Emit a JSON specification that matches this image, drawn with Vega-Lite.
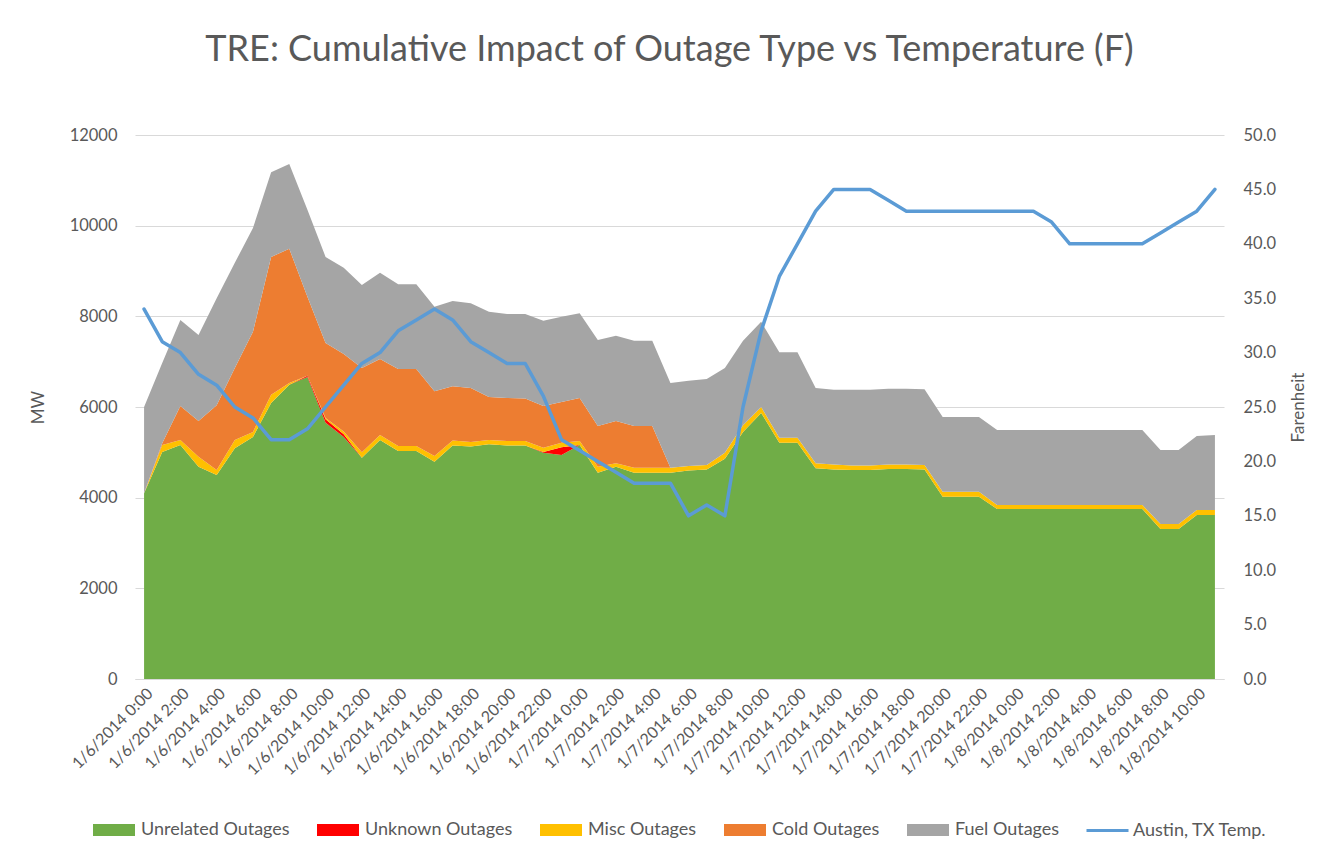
{
  "$schema": "https://vega.github.io/schema/vega-lite/v6.json",
  "width": 1089,
  "height": 544,
  "autosize": "none",
  "padding": {"left": 135, "top": 135, "right": 112, "bottom": 178},
  "background": "white",
  "title": {"text": "TRE: Cumulative Impact of Outage Type vs Temperature (F)", "font": "Lato", "fontSize": 36, "fontWeight": "normal", "color": "#595959", "anchor": "middle", "offset": 58, "dx": -10},
  "datasets": {
    "series": [
      {"key": "unrelated", "label": "Unrelated Outages", "rank": 1},
      {"key": "unknown", "label": "Unknown Outages", "rank": 2},
      {"key": "misc", "label": "Misc Outages", "rank": 3},
      {"key": "cold", "label": "Cold Outages", "rank": 4},
      {"key": "fuel", "label": "Fuel Outages", "rank": 5}
    ],
    "hours": [
      {"t": "2014-01-06T00:00", "unrelated": 4100, "unknown": 0, "misc": 0, "cold": 0, "fuel": 1900, "temp": 34},
      {"t": "2014-01-06T01:00", "unrelated": 5010, "unknown": 0, "misc": 150, "cold": 40, "fuel": 1770, "temp": 31},
      {"t": "2014-01-06T02:00", "unrelated": 5160, "unknown": 0, "misc": 110, "cold": 750, "fuel": 1900, "temp": 30},
      {"t": "2014-01-06T03:00", "unrelated": 4680, "unknown": 0, "misc": 220, "cold": 790, "fuel": 1900, "temp": 28},
      {"t": "2014-01-06T04:00", "unrelated": 4500, "unknown": 0, "misc": 110, "cold": 1430, "fuel": 2360, "temp": 27},
      {"t": "2014-01-06T05:00", "unrelated": 5090, "unknown": 0, "misc": 180, "cold": 1590, "fuel": 2320, "temp": 25},
      {"t": "2014-01-06T06:00", "unrelated": 5340, "unknown": 0, "misc": 110, "cold": 2210, "fuel": 2290, "temp": 24},
      {"t": "2014-01-06T07:00", "unrelated": 6090, "unknown": 0, "misc": 180, "cold": 3040, "fuel": 1870, "temp": 22},
      {"t": "2014-01-06T08:00", "unrelated": 6490, "unknown": 0, "misc": 40, "cold": 2960, "fuel": 1870, "temp": 22},
      {"t": "2014-01-06T09:00", "unrelated": 6660, "unknown": 30, "misc": 0, "cold": 1740, "fuel": 1920, "temp": 23},
      {"t": "2014-01-06T10:00", "unrelated": 5650, "unknown": 80, "misc": 30, "cold": 1650, "fuel": 1900, "temp": 25},
      {"t": "2014-01-06T11:00", "unrelated": 5340, "unknown": 60, "misc": 60, "cold": 1710, "fuel": 1900, "temp": 27},
      {"t": "2014-01-06T12:00", "unrelated": 4880, "unknown": 0, "misc": 120, "cold": 1860, "fuel": 1830, "temp": 29},
      {"t": "2014-01-06T13:00", "unrelated": 5270, "unknown": 0, "misc": 110, "cold": 1680, "fuel": 1900, "temp": 30},
      {"t": "2014-01-06T14:00", "unrelated": 5030, "unknown": 0, "misc": 110, "cold": 1700, "fuel": 1870, "temp": 32},
      {"t": "2014-01-06T15:00", "unrelated": 5030, "unknown": 0, "misc": 110, "cold": 1700, "fuel": 1870, "temp": 33},
      {"t": "2014-01-06T16:00", "unrelated": 4790, "unknown": 0, "misc": 130, "cold": 1430, "fuel": 1860, "temp": 34},
      {"t": "2014-01-06T17:00", "unrelated": 5150, "unknown": 0, "misc": 110, "cold": 1200, "fuel": 1880, "temp": 33},
      {"t": "2014-01-06T18:00", "unrelated": 5130, "unknown": 0, "misc": 100, "cold": 1190, "fuel": 1870, "temp": 31},
      {"t": "2014-01-06T19:00", "unrelated": 5180, "unknown": 0, "misc": 90, "cold": 950, "fuel": 1880, "temp": 30},
      {"t": "2014-01-06T20:00", "unrelated": 5150, "unknown": 0, "misc": 100, "cold": 950, "fuel": 1850, "temp": 29},
      {"t": "2014-01-06T21:00", "unrelated": 5150, "unknown": 0, "misc": 100, "cold": 940, "fuel": 1860, "temp": 29},
      {"t": "2014-01-06T22:00", "unrelated": 4990, "unknown": 20, "misc": 90, "cold": 920, "fuel": 1880, "temp": 26},
      {"t": "2014-01-06T23:00", "unrelated": 4940, "unknown": 170, "misc": 100, "cold": 900, "fuel": 1880, "temp": 22},
      {"t": "2014-01-07T00:00", "unrelated": 5160, "unknown": 0, "misc": 90, "cold": 950, "fuel": 1870, "temp": 21},
      {"t": "2014-01-07T01:00", "unrelated": 4550, "unknown": 0, "misc": 130, "cold": 900, "fuel": 1900, "temp": 20},
      {"t": "2014-01-07T02:00", "unrelated": 4680, "unknown": 0, "misc": 80, "cold": 930, "fuel": 1880, "temp": 19},
      {"t": "2014-01-07T03:00", "unrelated": 4550, "unknown": 0, "misc": 110, "cold": 920, "fuel": 1880, "temp": 18},
      {"t": "2014-01-07T04:00", "unrelated": 4550, "unknown": 0, "misc": 110, "cold": 920, "fuel": 1880, "temp": 18},
      {"t": "2014-01-07T05:00", "unrelated": 4550, "unknown": 0, "misc": 110, "cold": 0, "fuel": 1870, "temp": 18},
      {"t": "2014-01-07T06:00", "unrelated": 4600, "unknown": 0, "misc": 100, "cold": 0, "fuel": 1880, "temp": 15},
      {"t": "2014-01-07T07:00", "unrelated": 4620, "unknown": 0, "misc": 100, "cold": 0, "fuel": 1900, "temp": 16},
      {"t": "2014-01-07T08:00", "unrelated": 4860, "unknown": 0, "misc": 130, "cold": 0, "fuel": 1870, "temp": 15},
      {"t": "2014-01-07T09:00", "unrelated": 5450, "unknown": 0, "misc": 150, "cold": 0, "fuel": 1860, "temp": 25},
      {"t": "2014-01-07T10:00", "unrelated": 5870, "unknown": 0, "misc": 130, "cold": 0, "fuel": 1880, "temp": 32},
      {"t": "2014-01-07T11:00", "unrelated": 5210, "unknown": 0, "misc": 110, "cold": 0, "fuel": 1890, "temp": 37},
      {"t": "2014-01-07T12:00", "unrelated": 5210, "unknown": 0, "misc": 110, "cold": 0, "fuel": 1890, "temp": 40},
      {"t": "2014-01-07T13:00", "unrelated": 4650, "unknown": 0, "misc": 110, "cold": 0, "fuel": 1660, "temp": 43},
      {"t": "2014-01-07T14:00", "unrelated": 4620, "unknown": 0, "misc": 110, "cold": 0, "fuel": 1650, "temp": 45},
      {"t": "2014-01-07T15:00", "unrelated": 4610, "unknown": 0, "misc": 100, "cold": 0, "fuel": 1670, "temp": 45},
      {"t": "2014-01-07T16:00", "unrelated": 4610, "unknown": 0, "misc": 100, "cold": 0, "fuel": 1670, "temp": 45},
      {"t": "2014-01-07T17:00", "unrelated": 4630, "unknown": 0, "misc": 100, "cold": 0, "fuel": 1670, "temp": 44},
      {"t": "2014-01-07T18:00", "unrelated": 4630, "unknown": 0, "misc": 100, "cold": 0, "fuel": 1670, "temp": 43},
      {"t": "2014-01-07T19:00", "unrelated": 4620, "unknown": 0, "misc": 100, "cold": 0, "fuel": 1670, "temp": 43},
      {"t": "2014-01-07T20:00", "unrelated": 4020, "unknown": 0, "misc": 110, "cold": 0, "fuel": 1650, "temp": 43},
      {"t": "2014-01-07T21:00", "unrelated": 4020, "unknown": 0, "misc": 110, "cold": 0, "fuel": 1650, "temp": 43},
      {"t": "2014-01-07T22:00", "unrelated": 4020, "unknown": 0, "misc": 110, "cold": 0, "fuel": 1650, "temp": 43},
      {"t": "2014-01-07T23:00", "unrelated": 3750, "unknown": 0, "misc": 90, "cold": 0, "fuel": 1650, "temp": 43},
      {"t": "2014-01-08T00:00", "unrelated": 3750, "unknown": 0, "misc": 90, "cold": 0, "fuel": 1650, "temp": 43},
      {"t": "2014-01-08T01:00", "unrelated": 3750, "unknown": 0, "misc": 90, "cold": 0, "fuel": 1650, "temp": 43},
      {"t": "2014-01-08T02:00", "unrelated": 3750, "unknown": 0, "misc": 90, "cold": 0, "fuel": 1650, "temp": 42},
      {"t": "2014-01-08T03:00", "unrelated": 3750, "unknown": 0, "misc": 90, "cold": 0, "fuel": 1650, "temp": 40},
      {"t": "2014-01-08T04:00", "unrelated": 3750, "unknown": 0, "misc": 90, "cold": 0, "fuel": 1650, "temp": 40},
      {"t": "2014-01-08T05:00", "unrelated": 3750, "unknown": 0, "misc": 90, "cold": 0, "fuel": 1650, "temp": 40},
      {"t": "2014-01-08T06:00", "unrelated": 3750, "unknown": 0, "misc": 90, "cold": 0, "fuel": 1650, "temp": 40},
      {"t": "2014-01-08T07:00", "unrelated": 3750, "unknown": 0, "misc": 90, "cold": 0, "fuel": 1650, "temp": 40},
      {"t": "2014-01-08T08:00", "unrelated": 3310, "unknown": 0, "misc": 110, "cold": 0, "fuel": 1630, "temp": 41},
      {"t": "2014-01-08T09:00", "unrelated": 3310, "unknown": 0, "misc": 110, "cold": 0, "fuel": 1630, "temp": 42},
      {"t": "2014-01-08T10:00", "unrelated": 3620, "unknown": 0, "misc": 110, "cold": 0, "fuel": 1630, "temp": 43},
      {"t": "2014-01-08T11:00", "unrelated": 3620, "unknown": 0, "misc": 110, "cold": 0, "fuel": 1650, "temp": 45}
    ]
  },
  "data": {"name": "hours"},
  "encoding": {
    "x": {
      "field": "t", "type": "temporal",
      "scale": {"domain": ["2014-01-05T23:30", "2014-01-08T11:30"]},
      "axis": {
        "title": null,
        "values": ["2014-01-06T00:00", "2014-01-06T02:00", "2014-01-06T04:00", "2014-01-06T06:00", "2014-01-06T08:00", "2014-01-06T10:00", "2014-01-06T12:00", "2014-01-06T14:00", "2014-01-06T16:00", "2014-01-06T18:00", "2014-01-06T20:00", "2014-01-06T22:00", "2014-01-07T00:00", "2014-01-07T02:00", "2014-01-07T04:00", "2014-01-07T06:00", "2014-01-07T08:00", "2014-01-07T10:00", "2014-01-07T12:00", "2014-01-07T14:00", "2014-01-07T16:00", "2014-01-07T18:00", "2014-01-07T20:00", "2014-01-07T22:00", "2014-01-08T00:00", "2014-01-08T02:00", "2014-01-08T04:00", "2014-01-08T06:00", "2014-01-08T08:00", "2014-01-08T10:00"],
        "labelExpr": "timeFormat(datum.value, '%-m/%-d/%Y %-H:%M')",
        "labelAngle": -45, "labelFont": "Lato", "labelFontSize": 16, "labelColor": "#595959",
        "labelOverlap": false, "labelPadding": 6, "ticks": false, "grid": false,
        "domain": true, "domainColor": "#D9D9D9", "domainWidth": 1
      }
    }
  },
  "layer": [
    {
      "transform": [
        {"fold": ["unrelated", "unknown", "misc", "cold", "fuel"], "as": ["key", "mw"]},
        {"lookup": "key", "from": {"data": {"name": "series"}, "key": "key", "fields": ["label", "rank"]}}
      ],
      "mark": {"type": "area", "interpolate": "linear"},
      "encoding": {
        "y": {
          "field": "mw", "type": "quantitative", "stack": "zero",
          "scale": {"domain": [0, 12000]},
          "axis": {
            "values": [0, 2000, 4000, 6000, 8000, 10000, 12000], "format": "d",
            "grid": true, "gridColor": "#D9D9D9", "gridWidth": 1, "domain": false, "ticks": false,
            "labelPadding": 18, "labelFont": "Lato", "labelFontSize": 16.5, "labelColor": "#595959",
            "title": "MW", "titleFont": "Lato", "titleFontSize": 17, "titleFontWeight": "normal", "titleColor": "#595959", "titlePadding": 22
          }
        },
        "fill": {
          "field": "label", "type": "nominal",
          "scale": {"domain": ["Unrelated Outages", "Unknown Outages", "Misc Outages", "Cold Outages", "Fuel Outages"], "range": ["#70AD47", "#FF0000", "#FFC000", "#ED7D31", "#A5A5A5"]},
          "legend": {
            "orient": "bottom", "direction": "horizontal", "title": null,
            "symbolType": "M-1,-0.2857L1,-0.2857L1,0.2857L-1,0.2857Z", "symbolSize": 1764,
            "labelFont": "Lato", "labelFontSize": 18, "labelColor": "#595959", "labelOffset": 5, "columnPadding": 26, "offset": 30
          }
        },
        "order": {"field": "rank", "type": "quantitative"}
      }
    },
    {
      "mark": {"type": "line", "strokeWidth": 3.5, "strokeJoin": "round", "strokeCap": "round"},
      "encoding": {
        "y": {
          "field": "temp", "type": "quantitative",
          "scale": {"domain": [0, 50]},
          "axis": {
            "orient": "right", "values": [0, 5, 10, 15, 20, 25, 30, 35, 40, 45, 50], "format": ".1f",
            "grid": false, "domain": false, "ticks": false,
            "labelPadding": 19, "labelFont": "Lato", "labelFontSize": 16.5, "labelColor": "#595959",
            "title": "Farenheit", "titleAngle": 270, "titleFont": "Lato", "titleFontSize": 17, "titleFontWeight": "normal", "titleColor": "#595959", "titlePadding": 32
          }
        },
        "stroke": {
          "datum": "Austin, TX Temp.", "type": "nominal",
          "scale": {"range": ["#5B9BD5"]},
          "legend": {
            "orient": "bottom", "direction": "horizontal", "title": null,
            "symbolType": "stroke", "symbolSize": 1764, "symbolStrokeWidth": 3,
            "labelFont": "Lato", "labelFontSize": 18, "labelColor": "#595959", "labelOffset": 3, "offset": 30
          }
        }
      }
    }
  ],
  "resolve": {"scale": {"y": "independent"}},
  "config": {
    "view": {"stroke": null},
    "font": "Lato",
    "legend": {"layout": {"bottom": {"anchor": "middle", "margin": 25}}}
  }
}
